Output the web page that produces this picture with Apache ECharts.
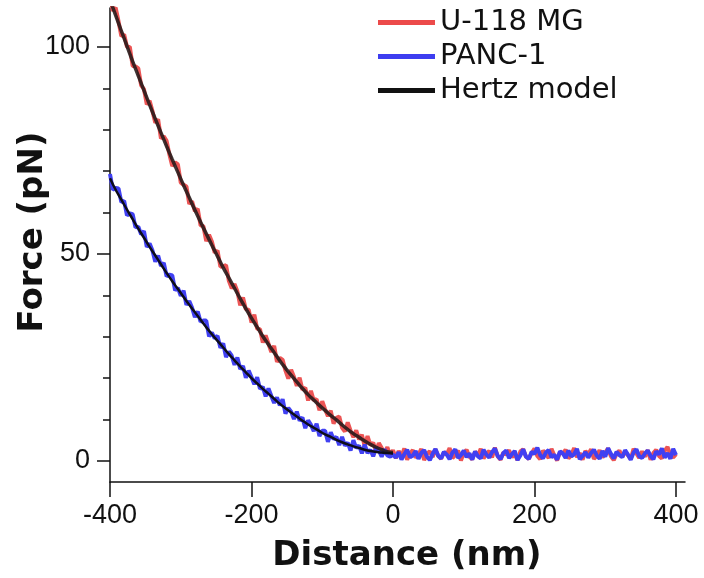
<!DOCTYPE html>
<html>
<head>
<meta charset="utf-8">
<script src="https://cdn.jsdelivr.net/npm/echarts@6/dist/echarts.min.js"></script>
<style>
html,body{margin:0;padding:0;background:#fff;}
#chart{width:704px;height:578px;}
</style>
</head>
<body>
<div id="chart"></div>
<script>
// ---- data ----
const distance = [-400,-396,-392,-388,-384,-380,-376,-372,-368,-364,-360,-356,-352,-348,-344,-340,-336,-332,-328,-324,-320,-316,-312,-308,-304,-300,-296,-292,-288,-284,-280,-276,-272,-268,-264,-260,-256,-252,-248,-244,-240,-236,-232,-228,-224,-220,-216,-212,-208,-204,-200,-196,-192,-188,-184,-180,-176,-172,-168,-164,-160,-156,-152,-148,-144,-140,-136,-132,-128,-124,-120,-116,-112,-108,-104,-100,-96,-92,-88,-84,-80,-76,-72,-68,-64,-60,-56,-52,-48,-44,-40,-36,-32,-28,-24,-20,-16,-12,-8,-4,0,
  4,8,12,16,20,24,28,32,36,40,44,48,52,56,60,64,68,72,76,80,84,88,92,96,100,104,108,112,116,120,124,128,132,136,140,144,148,152,156,160,164,168,172,176,180,184,188,192,196,200,204,208,212,216,220,224,228,232,236,240,244,248,252,256,260,264,268,272,276,280,284,288,292,296,300,304,308,312,316,320,324,328,332,336,340,344,348,352,356,360,364,368,372,376,380,384,388,392,396,400];

const u118 = [112.6,108.7,109.5,106.2,102.6,103.0,100.0,100.0,95.4,95.3,
  94.8,90.7,89.8,86.1,87.0,84.5,81.7,82.5,77.9,78.4,
  77.3,74.0,71.2,72.1,71.6,67.2,66.7,66.3,62.1,62.7,
  60.3,60.9,56.9,56.7,53.1,54.6,53.0,50.3,50.8,46.9,
  47.0,47.3,43.5,41.7,42.7,41.0,37.6,39.5,36.6,36.5,
  33.4,35.3,31.9,31.8,28.6,30.3,28.3,26.3,27.8,23.9,
  24.9,24.4,21.8,19.9,22.0,20.3,18.1,20.1,17.2,17.7,
  14.6,16.9,14.6,14.9,12.2,14.4,12.5,10.8,12.1,9.0,
  10.4,10.7,8.0,7.1,9.3,7.3,5.7,7.4,5.2,6.3,
  3.5,6.0,3.8,4.4,2.3,4.3,3.1,1.9,3.3,1.3,2.6,
  0.6,2.4,1.1,3.0,0.3,1.8,2.6,0.8,1.5,2.9,
  0.2,1.7,2.3,0.9,2.8,1.2,0.5,2.1,1.6,3.1,
  0.7,1.4,2.5,0.1,1.9,2.7,1.0,0.4,2.2,1.3,
  2.9,0.6,1.8,2.4,0.8,3.2,1.1,0.3,2.0,1.5,
  2.6,0.9,1.7,0.2,2.3,2.8,1.0,0.5,1.9,3.0,
  1.2,0.4,2.5,1.6,0.7,2.9,1.3,0.1,2.1,1.8,
  2.7,0.6,1.4,3.1,0.9,1.9,0.3,2.4,1.6,2.8,
  0.5,1.2,2.6,0.8,2.0,3.0,1.1,0.2,1.7,2.5,
  0.9,2.2,1.4,0.4,2.9,1.8,0.7,2.3,1.0,2.6,
  0.3,1.9,2.7,1.2,0.6,2.4,3.4,1.5,0.8,1.6];

const panc1 = [69.3,65.5,65.9,65.8,62.5,62.8,59.3,59.8,59.6,56.4,
  56.6,54.7,55.5,51.7,52.5,50.8,48.1,49.6,47.1,47.8,
  44.6,45.0,44.8,41.2,41.8,39.9,41.1,37.7,38.6,37.0,
  34.7,36.1,33.6,33.9,33.9,30.1,31.0,29.6,30.2,27.3,
  28.4,25.1,26.4,25.4,23.2,25.0,22.2,22.9,20.1,21.8,
  20.2,18.5,20.2,17.4,17.9,15.6,17.5,15.7,14.0,15.3,
  13.4,14.9,11.4,12.8,11.9,10.1,11.9,9.7,10.5,7.9,
  9.8,8.7,7.2,9.0,6.0,7.3,7.3,4.6,6.9,5.2,
  5.8,3.8,5.8,3.7,4.4,2.5,5.0,3.1,3.7,1.8,
  3.9,1.9,2.7,1.1,3.1,2.5,1.0,2.8,1.3,1.0,1.5,
  0.8,2.1,0.3,1.6,2.7,0.9,1.3,2.4,0.5,1.9,
  2.6,1.0,0.2,1.7,2.9,1.2,0.6,2.2,1.5,0.4,
  2.0,2.8,0.7,1.4,2.5,0.9,1.8,0.3,2.3,1.1,
  0.6,2.7,1.5,0.8,2.1,3.0,1.2,0.4,1.9,2.5,
  0.7,1.6,2.4,0.2,1.3,2.8,1.0,0.5,2.2,1.7,
  3.2,1.4,0.6,2.0,2.6,0.9,1.5,0.3,2.3,1.8,
  0.7,2.5,1.1,1.6,2.9,0.4,1.2,2.1,0.8,1.9,
  2.7,1.3,0.5,2.4,1.0,3.1,1.7,0.6,2.2,1.4,
  0.9,2.6,1.5,0.3,2.0,2.8,1.1,0.7,1.8,2.5,
  1.2,0.4,2.3,1.6,3.0,0.8,1.9,0.5,2.9,1.4];

const hertzDistance = [-400,-392,-384,-376,-368,-360,-352,-344,-336,-328,-320,-312,-304,-296,-288,-280,-272,-264,-256,-248,-240,-232,-224,-216,-208,-200,-192,-184,-176,-168,-160,-152,-144,-136,-128,-120,-112,-104,-96,-88,-80,-72,-64,-56,-48,-40,-32,-24,-16,-8,0];
const hertzU118 = [111.4,107.6,103.9,100.2,96.5,93.0,89.5,86.0,82.6,79.3,76.0,72.8,69.7,66.6,63.6,60.6,57.7,54.9,52.1,49.4,46.7,44.2,41.7,39.2,36.8,34.5,32.3,30.1,28.1,26.2,24.2,22.4,20.7,19.1,17.5,16.0,14.7,13.4,12.2,11.0,9.9,8.7,7.6,6.6,5.7,4.8,4.0,3.3,2.7,2.2,2.0];
const hertzPANC1 = [68.3,65.5,63.1,60.7,58.4,56.1,53.9,51.7,49.6,47.5,45.4,43.4,41.5,39.6,37.7,35.9,34.1,32.3,30.6,29.0,27.4,25.8,24.3,22.8,21.4,20.0,18.7,17.4,16.2,15.0,13.8,12.7,11.7,10.7,9.7,8.8,8.0,7.2,6.4,5.8,5.1,4.5,4.0,3.5,3.1,2.7,2.4,2.2,2.0,1.9,1.8];

const xTicks = [-400, -200, 0, 200, 400];
const yMajorTicks = [0, 50, 100];
const yMinorTicks = [10, 20, 30, 40, 60, 70, 80, 90];
const seriesNames = ['U-118 MG', 'PANC-1', 'Hertz model'];
const xTitle = 'Distance (nm)';
const yTitle = 'Force (pN)';

// ---- chart ----
const pair = (xs, ys) => xs.map((x, i) => [x, ys[i]]);
const chart = echarts.init(document.getElementById('chart'), null, {renderer: 'canvas'});
const axisFont = {fontFamily: 'Liberation Sans', fontSize: 27, color: '#111'};
const Y_MIN = -5.1, Y_MAX = 109.4, X_MIN = -400, X_MAX = 412.7;
const axisStroke = {color: '#111', width: 1.5};

chart.setOption({
  animation: false,
  backgroundColor: '#fff',
  grid: {left: 110, right: 19, top: 8, bottom: 96, containLabel: false},
  xAxis: {
    type: 'value', min: X_MIN, max: X_MAX,
    axisLine: {show: true, onZero: false, lineStyle: axisStroke},
    axisTick: {show: true, length: 15, customValues: xTicks, lineStyle: axisStroke},
    axisLabel: Object.assign({margin: 20, customValues: xTicks}, axisFont),
    splitLine: {show: false}
  },
  yAxis: [{
    type: 'value', min: Y_MIN, max: Y_MAX, position: 'left',
    axisLine: {show: true, onZero: false, lineStyle: axisStroke},
    axisTick: {show: true, length: 13, customValues: yMajorTicks, lineStyle: axisStroke},
    axisLabel: Object.assign({margin: 20, customValues: yMajorTicks}, axisFont),
    splitLine: {show: false}
  }, {
    type: 'value', min: Y_MIN, max: Y_MAX, position: 'left',
    axisLine: {show: false, onZero: false},
    axisTick: {show: true, length: 7, customValues: yMinorTicks, lineStyle: axisStroke},
    axisLabel: {show: false},
    splitLine: {show: false}
  }],
  legend: {
    orient: 'vertical', left: 378, top: 8, padding: 0,
    itemWidth: 57, itemHeight: 5, itemGap: 5, icon: 'rect',
    data: seriesNames,
    textStyle: {fontFamily: 'DejaVu Sans', fontSize: 29, color: '#111'}
  },
  series: [
    {name: seriesNames[0], type: 'line', data: pair(distance, u118), showSymbol: false, symbol: 'none',
     color: '#ec4a4a', lineStyle: {width: 4, color: '#ec5555'}, z: 2},
    {name: seriesNames[1], type: 'line', data: pair(distance, panc1), showSymbol: false, symbol: 'none',
     color: '#3d3df0', lineStyle: {width: 4, color: '#4040f2'}, z: 3},
    {name: seriesNames[2], type: 'line', data: pair(hertzDistance, hertzU118), showSymbol: false, symbol: 'none',
     color: '#111', smooth: true, lineStyle: {width: 3.5, color: 'rgba(35,25,25,0.88)'}, z: 4},
    {name: seriesNames[2], type: 'line', data: pair(hertzDistance, hertzPANC1), showSymbol: false, symbol: 'none',
     color: '#111', smooth: true, lineStyle: {width: 2.5, color: '#0d0d1a'}, z: 4}
  ],
  graphic: [
    {type: 'text', x: 407, y: 556, style: {text: xTitle, font: 'bold 34px "DejaVu Sans"', fill: '#111', align: 'center', verticalAlign: 'middle'}},
    {type: 'text', x: 33, y: 232, rotation: Math.PI / 2, style: {text: yTitle, font: 'bold 34px "DejaVu Sans"', fill: '#111', align: 'center', verticalAlign: 'middle'}}
  ]
});
</script>
</body>
</html>
